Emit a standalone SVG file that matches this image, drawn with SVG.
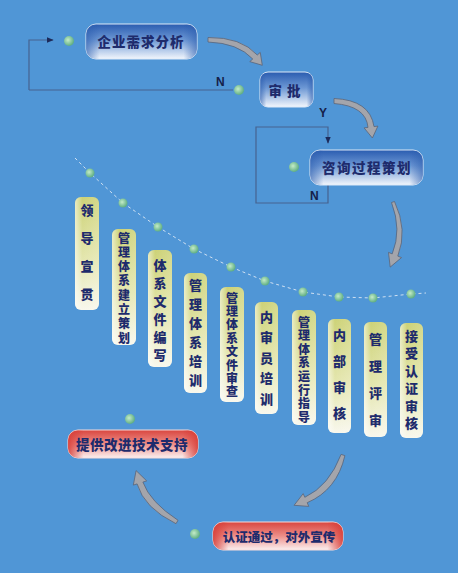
<svg xmlns="http://www.w3.org/2000/svg" width="458" height="573" viewBox="0 0 458 573">
<defs>
<linearGradient id="gBlue" x1="0" y1="0" x2="0" y2="1">
<stop offset="0" stop-color="#2a5cb0"/>
<stop offset="0.45" stop-color="#6c97d4"/>
<stop offset="1" stop-color="#f2f6fc"/>
</linearGradient>
<linearGradient id="gBlueSide" x1="0" y1="0" x2="1" y2="0">
<stop offset="0" stop-color="#2a5cae" stop-opacity="0.6"/>
<stop offset="0.12" stop-color="#2a5cae" stop-opacity="0"/>
<stop offset="0.88" stop-color="#2a5cae" stop-opacity="0"/>
<stop offset="1" stop-color="#2a5cae" stop-opacity="0.6"/>
</linearGradient>
<linearGradient id="gRed" x1="0" y1="0" x2="0" y2="1">
<stop offset="0" stop-color="#d9463f"/>
<stop offset="0.5" stop-color="#ee8e88"/>
<stop offset="1" stop-color="#fbf0f0"/>
</linearGradient>
<linearGradient id="gRedSide" x1="0" y1="0" x2="1" y2="0">
<stop offset="0" stop-color="#d63a34" stop-opacity="0.85"/>
<stop offset="0.12" stop-color="#d63a34" stop-opacity="0"/>
<stop offset="0.88" stop-color="#d63a34" stop-opacity="0"/>
<stop offset="1" stop-color="#d63a34" stop-opacity="0.85"/>
</linearGradient>
<linearGradient id="gBar" x1="0" y1="0" x2="0" y2="1">
<stop offset="0" stop-color="#cdd277"/>
<stop offset="0.55" stop-color="#e4e6ae"/>
<stop offset="1" stop-color="#f8f7ec"/>
</linearGradient>
<linearGradient id="gBarSide" x1="0" y1="0" x2="1" y2="0">
<stop offset="0" stop-color="#ffffff" stop-opacity="0.55"/>
<stop offset="0.3" stop-color="#ffffff" stop-opacity="0"/>
<stop offset="1" stop-color="#ffffff" stop-opacity="0.15"/>
</linearGradient>
<radialGradient id="gDot" cx="0.4" cy="0.4" r="0.6">
<stop offset="0" stop-color="#c4ecc8"/>
<stop offset="1" stop-color="#5fae84"/>
</radialGradient>
<marker id="ah" viewBox="0 0 10 10" refX="9" refY="5" markerWidth="7" markerHeight="7" markerUnits="userSpaceOnUse" orient="auto">
<path d="M0,1 L10,5 L0,9 Z" fill="#1c2a5a"/>
</marker>
</defs>
<style>
.cn{font-family:"Noto Sans CJK SC","Noto Sans CJK TC",sans-serif;font-weight:900;fill:#1e2b6c;}
.vt{font-size:13px;writing-mode:vertical-rl;text-anchor:start;}
.bd{font-size:12px;}
.nt{font-size:13.5px;text-anchor:middle;dominant-baseline:central;}
.lab{font-family:"Liberation Sans",Arial,sans-serif;font-weight:bold;font-size:12px;fill:#15204a;}
.loop{fill:none;stroke:#47638f;stroke-width:1.2;}
.bigarrow{fill:#a4a5ab;stroke:#5b6478;stroke-width:0.8;}
.dot{fill:url(#gDot);}
.bar{fill:url(#gBar);}
.bars{fill:url(#gBarSide);}
.bn{fill:url(#gBlue);stroke:#dce8f7;stroke-width:1;}
.bns{fill:url(#gBlueSide);}
.rn{fill:url(#gRed);stroke:#f6dada;stroke-width:1;}
.rns{fill:url(#gRedSide);}
</style>
<rect x="0" y="0" width="458" height="573" fill="#5096d6"/>

<g id="connectors">
<polyline points="29,90 233,90" class="loop"/>
<polyline points="29,90 29,40 53,40" class="loop" marker-end="url(#ah)"/>
<polyline points="328,185 328,203 256,203 256,127 328,127 328,143" class="loop" marker-end="url(#ah)"/>
<polyline points="75,158 90,173 123,203 158,227 194,249 231,267 265,281 303,292 339,297 373,298 411,294 426,293" fill="none" stroke="#cfe0f2" stroke-width="1" stroke-dasharray="3,3"/>
<path class="bigarrow" d="M208,37.5 Q241,37 257.25,55 L260.25,52.4 L262.3,65.3 L249.75,61.6 L252.75,59 Q238,43 208,42 Z"/>
<path class="bigarrow" d="M334,98.5 Q370,100 374,126.6 L377.9,126.1 L372.4,138 L364.1,127.9 L368,127.4 Q366,106 334,103.5 Z"/>
<path class="bigarrow" d="M394.5,201.5 Q408,230 397.8,256.1 L401.5,257.6 L390.2,267.1 L388.5,252.4 L392.2,253.9 Q402,230 391.5,202.5 Z"/>
<path class="bigarrow" d="M344.9,455.6 Q337,490 307.2,502.7 L308.8,506.4 L294.1,505.3 L303.2,493.6 L304.8,497.3 Q329,486 341.1,454.4 Z"/>
<path class="bigarrow" d="M178,520.3 Q150,502 142.9,482.1 L146.7,480.9 L136.1,470.6 L133.3,485.1 L137.1,483.9 Q144,508 176,523.7 Z"/>
<text class="lab" x="216" y="86">N</text>
<text class="lab" x="319" y="117">Y</text>
<text class="lab" x="310" y="200">N</text>
</g>

<g id="dots">
<circle class="dot" cx="69" cy="41" r="5"/>
<circle class="dot" cx="239" cy="90" r="5"/>
<circle class="dot" cx="294" cy="167" r="5"/>
<circle class="dot" cx="90" cy="173" r="4.5"/>
<circle class="dot" cx="123" cy="203" r="4.5"/>
<circle class="dot" cx="158" cy="227" r="4.5"/>
<circle class="dot" cx="194" cy="249" r="4.5"/>
<circle class="dot" cx="231" cy="267" r="4.5"/>
<circle class="dot" cx="265" cy="281" r="4.5"/>
<circle class="dot" cx="303" cy="292" r="4.5"/>
<circle class="dot" cx="339" cy="297" r="4.5"/>
<circle class="dot" cx="373" cy="298" r="4.5"/>
<circle class="dot" cx="411" cy="294" r="4.5"/>
<circle class="dot" cx="130" cy="419" r="5"/>
<circle class="dot" cx="195" cy="534" r="5"/>
</g>

<g id="n-qiye">
<rect class="bn" x="86" y="24" width="111" height="35" rx="10"/>
<rect class="bns" x="86" y="24" width="111" height="35" rx="10"/>
<text class="cn nt" x="141" y="41" letter-spacing="1">企业需求分析</text>
</g>
<g id="n-shenpi">
<rect class="bn" x="260" y="72" width="53" height="35" rx="8"/>
<rect class="bns" x="260" y="72" width="53" height="35" rx="8"/>
<text class="cn nt" x="287" y="90" letter-spacing="5">审批</text>
</g>
<g id="n-zixun">
<rect class="bn" x="310" y="150" width="113" height="35" rx="10"/>
<rect class="bns" x="310" y="150" width="113" height="35" rx="10"/>
<text class="cn nt" x="367" y="167" letter-spacing="1.5">咨询过程策划</text>
</g>

<g id="b1">
<rect class="bar" x="75" y="197" width="24" height="113" rx="6"/><rect class="bars" x="75" y="197" width="24" height="113" rx="6"/>
<text class="cn vt" x="87" y="203.5" letter-spacing="15">领导宣贯</text>
</g>
<g id="b2">
<rect class="bar" x="112" y="229" width="24" height="116" rx="6"/><rect class="bars" x="112" y="229" width="24" height="116" rx="6"/>
<text class="cn vt bd" x="124" y="232" letter-spacing="2.3">管理体系建立策划</text>
</g>
<g id="b3">
<rect class="bar" x="148" y="250" width="24" height="117" rx="6"/><rect class="bars" x="148" y="250" width="24" height="117" rx="6"/>
<text class="cn vt" x="160" y="258.5" letter-spacing="5">体系文件编写</text>
</g>
<g id="b4">
<rect class="bar" x="184" y="273" width="23" height="120" rx="6"/><rect class="bars" x="184" y="273" width="23" height="120" rx="6"/>
<text class="cn vt" x="195.5" y="278.5" letter-spacing="6">管理体系培训</text>
</g>
<g id="b5">
<rect class="bar" x="220" y="287" width="24" height="115" rx="6"/><rect class="bars" x="220" y="287" width="24" height="115" rx="6"/>
<text class="cn vt bd" x="232" y="292" letter-spacing="1.4">管理体系文件审查</text>
</g>
<g id="b6">
<rect class="bar" x="255" y="302" width="23" height="112" rx="6"/><rect class="bars" x="255" y="302" width="23" height="112" rx="6"/>
<text class="cn vt" x="266.5" y="310.5" letter-spacing="7.5">内审员培训</text>
</g>
<g id="b7">
<rect class="bar" x="292" y="310" width="24" height="115" rx="6"/><rect class="bars" x="292" y="310" width="24" height="115" rx="6"/>
<text class="cn vt bd" x="304" y="316" letter-spacing="1.6">管理体系运行指导</text>
</g>
<g id="b8">
<rect class="bar" x="328" y="319" width="23" height="114" rx="6"/><rect class="bars" x="328" y="319" width="23" height="114" rx="6"/>
<text class="cn vt" x="339.5" y="328.5" letter-spacing="13">内部审核</text>
</g>
<g id="b9">
<rect class="bar" x="364" y="322" width="23" height="115" rx="6"/><rect class="bars" x="364" y="322" width="23" height="115" rx="6"/>
<text class="cn vt" x="375.5" y="332.5" letter-spacing="14">管理评审</text>
</g>
<g id="b10">
<rect class="bar" x="400" y="323" width="23" height="115" rx="6"/><rect class="bars" x="400" y="323" width="23" height="115" rx="6"/>
<text class="cn vt" x="411.5" y="329.5" letter-spacing="4.4">接受认证审核</text>
</g>

<g id="n-tigong">
<rect class="rn" x="68" y="430" width="130" height="28" rx="10"/>
<rect class="rns" x="68" y="430" width="130" height="28" rx="10"/>
<text class="cn nt" x="132" y="444" font-size="13" letter-spacing="0.5">提供改进技术支持</text>
</g>
<g id="n-renzheng">
<rect class="rn" x="213" y="522" width="130" height="28" rx="10"/>
<rect class="rns" x="213" y="522" width="130" height="28" rx="10"/>
<text class="cn nt" x="279" y="536" style="font-size:12.5px">认证通过，对外宣传</text>
</g>
</svg>
